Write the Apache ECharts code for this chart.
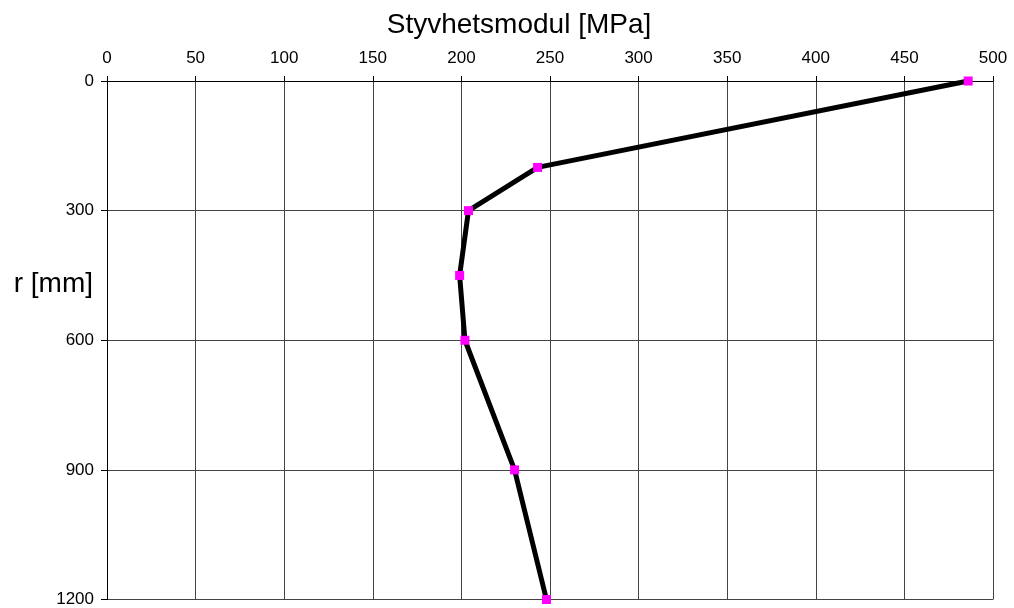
<!DOCTYPE html>
<html><head><meta charset="utf-8">
<script src="https://cdn.jsdelivr.net/npm/echarts@6/dist/echarts.min.js"></script>
<style>html,body{margin:0;padding:0;background:#fff}#c{width:1014px;height:608px}</style>
</head><body><div id="c"></div>
<script>
const modulus = [486, 243, 204, 199, 202, 230, 248];
const depth = [0, 200, 300, 450, 600, 900, 1200];
const xTitle = 'Styvhetsmodul [MPa]';
const yTitle = 'r [mm]';

const chart = echarts.init(document.getElementById('c'));
const font = 'Liberation Sans, Arial, sans-serif';
chart.setOption({
  animation: false,
  backgroundColor: '#fff',
  grid: {left: 107, right: 21, top: 81, bottom: 8, containLabel: false},
  title: {text: xTitle, left: 514, textAlign: 'center', top: 6,
    textStyle: {fontFamily: font, fontSize: 28, fontWeight: 'normal', color: '#000'}},
  graphic: [{type: 'text', right: 1014 - 93, top: 270,
    style: {text: yTitle, font: '28px ' + font, fill: '#000'}}],
  xAxis: {type: 'value', position: 'top', min: 0, max: 500, interval: 50,
    axisLine: {show: true, lineStyle: {color: '#000', width: 1}},
    axisTick: {show: true, inside: false, length: 5, lineStyle: {color: '#000'}},
    axisLabel: {fontFamily: font, fontSize: 17, color: '#000', margin: 14},
    splitLine: {show: true, lineStyle: {color: '#444', width: 1}}},
  yAxis: {type: 'value', inverse: true, min: 0, max: 1200, interval: 300,
    axisLine: {show: true, lineStyle: {color: '#000', width: 1}},
    axisTick: {show: true, length: 6, lineStyle: {color: '#000'}},
    axisLabel: {fontFamily: font, fontSize: 17, color: '#000', margin: 13,
      formatter: v => String(v)},
    splitLine: {show: true, lineStyle: {color: '#444', width: 1}}},
  series: [{type: 'line', data: modulus.map((v, i) => [v, depth[i]]),
    lineStyle: {color: '#000', width: 5},
    symbol: 'rect', symbolSize: 9, showSymbol: true,
    itemStyle: {color: '#ff00ff', borderWidth: 0},
    z: 5}]
});
</script></body></html>
